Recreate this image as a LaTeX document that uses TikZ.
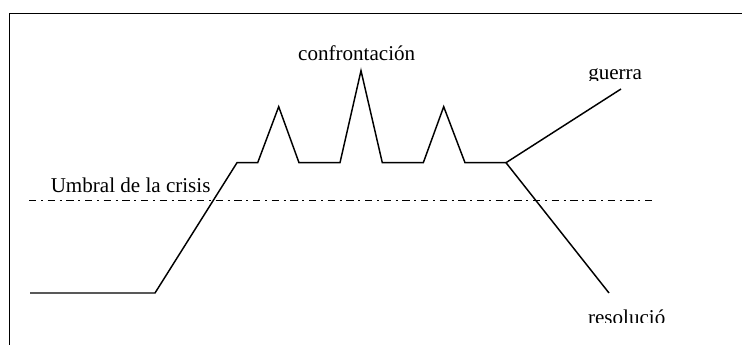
\documentclass[tikz,border=0pt]{standalone}
\usepackage{fontspec}
\setmainfont{Liberation Serif}
\usetikzlibrary{positioning}

\begin{document}
\begin{tikzpicture}[x=0.75pt, y=-0.75pt,
    curve/.style={line width=1.1pt, line join=miter},
    frameline/.style={line width=1.2pt},
    threshold/.style={line width=1.1pt, dash pattern=on 5.6pt off 3.4pt on 1.6pt off 3.4pt},
    lbl/.style={inner sep=0pt, font=\fontsize{15.8}{19}\selectfont}]
  \useasboundingbox (0,0) rectangle (742,345);
  % frame (cut at the right and bottom)
  \draw[frameline] (742,13.5) -- (9.5,13.5) -- (9.5,345);
  % key points of the crisis curve
  \coordinate (start) at (30,293);
  \coordinate (rise) at (155,293);
  \coordinate (top) at (237,162.7);
  \coordinate (fork) at (506,162.7);
  \coordinate (war) at (621,89);
  \coordinate (peace) at (609,293);
  \draw[curve] (start) -- (rise) -- (top) -- (257.7,162.7) -- (278.7,106.7) -- (299,162.7)
    -- (340,162.7) -- (361,70.7) -- (382.3,162.7) -- (423.3,162.7) -- (443.7,106.7)
    -- (465,162.7) -- (fork);
  \draw[curve] (fork) -- (war);
  \draw[curve] (fork) -- (peace);
  % crisis threshold
  \coordinate (thrA) at (29,200.3);
  \coordinate (thrB) at (652,200.3);
  \draw[threshold] (thrA) -- (thrB);
  \node[lbl, anchor=base west] (umbral) at (50.5,192.7) {Umbral de la crisis};
  \node[lbl, anchor=base] (confr) at (356.7,60.7) {confrontación};
  \begin{scope}
    \clip (570,40) rectangle (690,80.5);
    \node[lbl, anchor=base west] (guerra) at (588,79.6) {guerra};
  \end{scope}
  \begin{scope}
    \clip (570,295) rectangle (700,322.6);
    \node[lbl, anchor=base west] (resol) at (587.8,324.3) {resolució};
  \end{scope}
\end{tikzpicture}
\end{document}
